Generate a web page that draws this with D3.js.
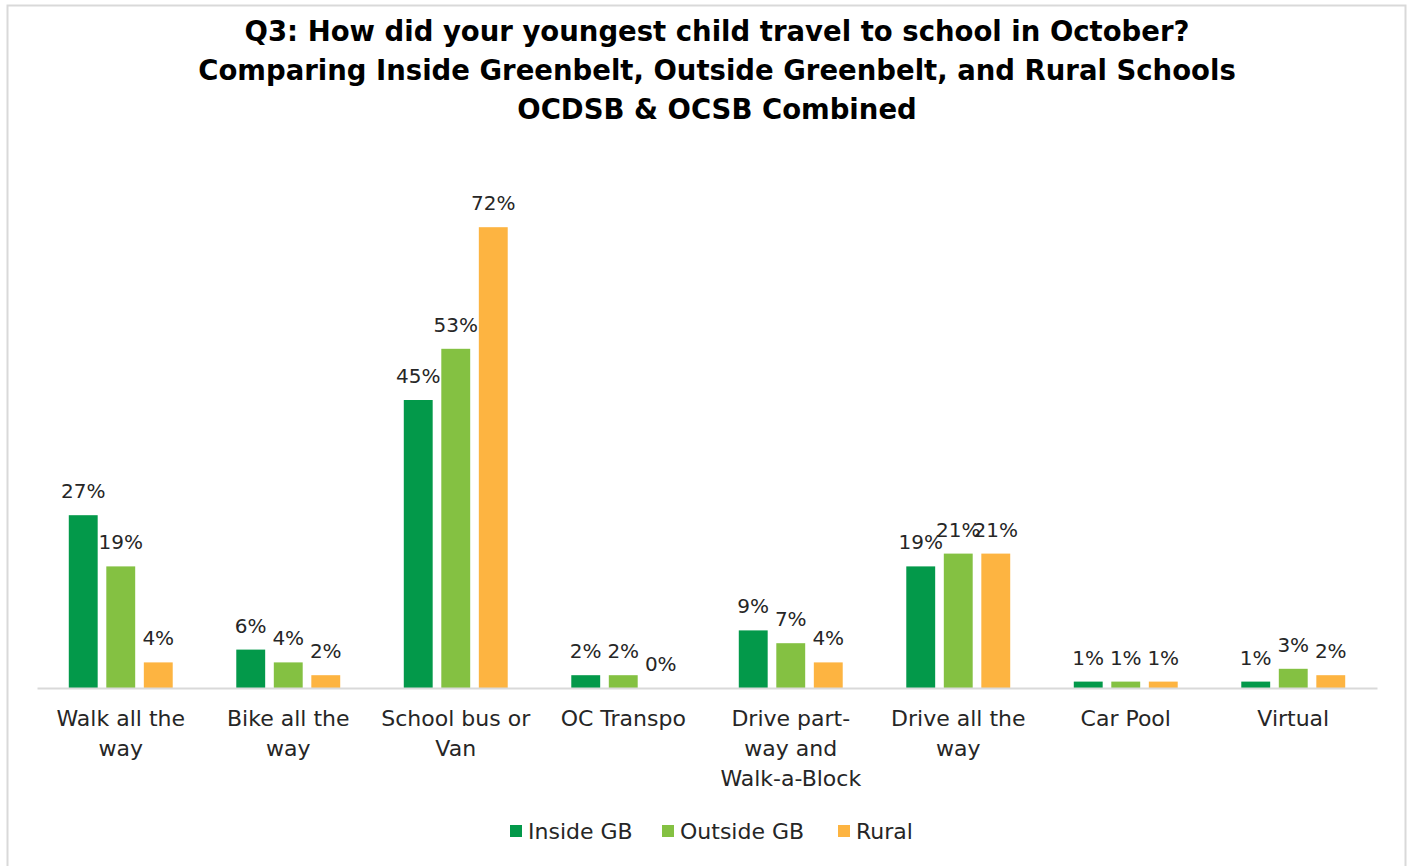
<!DOCTYPE html>
<html>
<head>
<meta charset="utf-8">
<script src="https://cdn.jsdelivr.net/npm/d3@7"></script>
<style>
  html, body { margin: 0; padding: 0; background: #fff; }
  svg { display: block; }
</style>
</head>
<body>
<svg id="chart" width="1410" height="866"></svg>
<script>
// Travel modes (each entry is the wrapped lines of the axis label)
const categories = [
  ["Walk all the", "way"],
  ["Bike all the", "way"],
  ["School bus or", "Van"],
  ["OC Transpo"],
  ["Drive part-", "way and", "Walk-a-Block"],
  ["Drive all the", "way"],
  ["Car Pool"],
  ["Virtual"]
];
const seriesNames = ["Inside GB", "Outside GB", "Rural"];
const insideGB  = [27, 6, 45, 2, 9, 19, 1, 1];
const outsideGB = [19, 4, 53, 2, 7, 21, 1, 3];
const rural     = [4, 2, 72, 0, 4, 21, 1, 2];
const seriesColors = ["#03994a", "#84c142", "#fdb441"];
const titleLines = [
  "Q3: How did your youngest child travel to school in October?",
  "Comparing Inside Greenbelt, Outside Greenbelt, and Rural Schools",
  "OCDSB & OCSB Combined"
];

const seriesValues = [insideGB, outsideGB, rural];
const catKeys = categories.map(c => c.join(" "));

const svg = d3.select("#chart");
const FONT = "'DejaVu Sans', 'Liberation Sans', sans-serif";

// chart frame
svg.append("rect")
  .attr("x", 7.5).attr("y", 5.5)
  .attr("width", 1398).attr("height", 880)
  .attr("fill", "#fff")
  .attr("stroke", "#d9d9d9").attr("stroke-width", 2);

// title
const title = svg.append("text")
  .attr("text-anchor", "middle")
  .attr("font-family", FONT)
  .attr("font-weight", "bold")
  .attr("font-size", 27.5)
  .attr("fill", "#000");
titleLines.forEach((t, i) => {
  title.append("tspan").attr("x", 717).attr("y", 41 + i * 39).text(t);
});

// scales
const baseY = 688;
const x0 = d3.scaleBand().domain(catKeys).range([37, 1377]).paddingInner(0.328).paddingOuter(0.164);
const x1 = d3.scaleBand().domain(seriesNames).range([0, x0.bandwidth()]).paddingInner(0.23).paddingOuter(0.115);
const y = d3.scaleLinear().domain([0, 80]).range([baseY, 176]);

// bars
const groups = svg.append("g").selectAll("g")
  .data(catKeys)
  .join("g")
  .attr("transform", d => `translate(${x0(d)},0)`);

groups.selectAll("rect")
  .data((d, ci) => seriesNames.map((s, si) => ({ s, si, v: seriesValues[si][ci] })))
  .join("rect")
  .attr("x", d => x1(d.s))
  .attr("y", d => y(d.v))
  .attr("width", x1.bandwidth())
  .attr("height", d => baseY - y(d.v))
  .attr("fill", d => seriesColors[d.si]);

// value labels
groups.selectAll("text")
  .data((d, ci) => seriesNames.map((s, si) => ({ s, si, v: seriesValues[si][ci] })))
  .join("text")
  .attr("x", d => x1(d.s) + x1.bandwidth() / 2)
  .attr("y", d => y(d.v) - 17)
  .attr("text-anchor", "middle")
  .attr("font-family", FONT)
  .attr("font-size", 20)
  .attr("fill", "#262626")
  .text(d => d.v + "%");

// category axis
const xAxis = svg.append("g")
  .attr("transform", `translate(0,${baseY})`)
  .call(d3.axisBottom(x0).tickSize(0).tickFormat(""));
xAxis.select(".domain").attr("stroke", "#d9d9d9").attr("stroke-width", 2);

xAxis.selectAll(".tick").each(function(d, i) {
  const t = d3.select(this).append("text")
    .attr("text-anchor", "middle")
    .attr("font-family", FONT)
    .attr("font-size", 22)
    .attr("fill", "#262626");
  categories[i].forEach((line, li) => {
    t.append("tspan").attr("x", 0).attr("y", 38 + li * 30).text(line);
  });
});

// legend
const legendItems = [
  { name: seriesNames[0], x: 510 },
  { name: seriesNames[1], x: 662 },
  { name: seriesNames[2], x: 838 }
];
const legend = svg.append("g");
legendItems.forEach((it, i) => {
  legend.append("rect")
    .attr("x", it.x).attr("y", 825)
    .attr("width", 12).attr("height", 12)
    .attr("fill", seriesColors[i]);
  legend.append("text")
    .attr("x", it.x + 18).attr("y", 839)
    .attr("font-family", FONT)
    .attr("font-size", 22)
    .attr("fill", "#262626")
    .text(it.name);
});
</script>
</body>
</html>
